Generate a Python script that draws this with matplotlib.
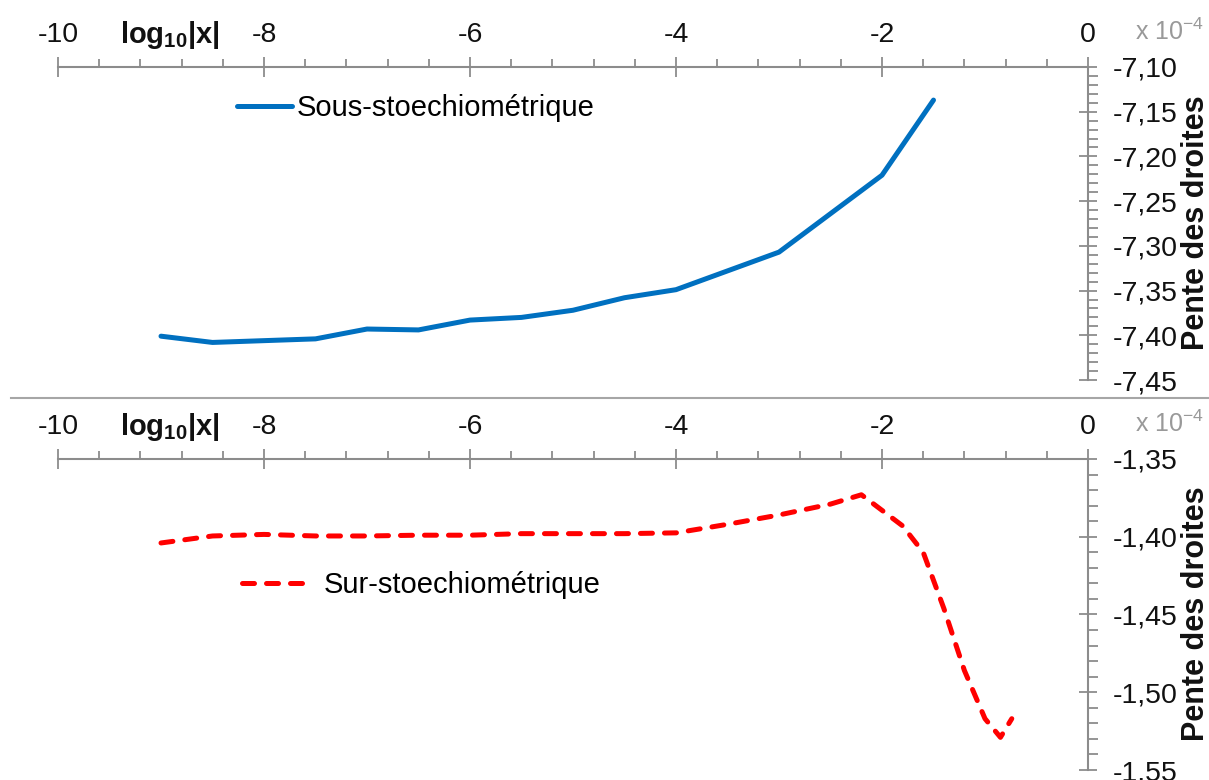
#!/usr/bin/env python
# -*- coding: utf-8 -*-

import matplotlib
matplotlib.use('Agg')
import matplotlib.pyplot as plt
from matplotlib.lines import Line2D
import matplotlib.ticker as ticker

matplotlib.rcParams.update({
	'font.family': 'Liberation Sans',
	'mathtext.fontset': 'custom',
	'mathtext.rm': 'Liberation Sans',
	'mathtext.bf': 'Liberation Sans:bold',
	'figure.dpi': 100})

# pente des droites (x 10^-4) en fonction de log10|x|
log_x_sous = [-9.0, -8.5, -8.0, -7.5, -7.0, -6.5, -6.0, -5.5, -5.0, -4.5, -4.0, -3.0, -2.0, -1.5]
pente_sous = [-7.401, -7.408, -7.406, -7.404, -7.393, -7.394, -7.383, -7.380, -7.372, -7.358, -7.349, -7.307, -7.221, -7.137]

log_x_sur = [-9.0, -8.5, -8.0, -7.5, -7.0, -6.5, -6.0, -5.5, -5.0, -4.5, -4.0, -3.5, -3.0, -2.5,
             -2.2, -1.8, -1.6, -1.4, -1.2, -1.0, -0.85, -0.74]
pente_sur = [-1.404, -1.3995, -1.3985, -1.3995, -1.3995, -1.399, -1.399, -1.398, -1.398, -1.398, -1.3975, -1.392, -1.386, -1.379,
             -1.373, -1.393, -1.410, -1.446, -1.486, -1.517, -1.529, -1.517]

x_ticks = [-10, -8, -6, -4, -2, 0]
x_tick_labels = ['-10', '-8', '-6', '-4', '-2', '0']

y_ticks_sous = [-7.45, -7.40, -7.35, -7.30, -7.25, -7.20, -7.15, -7.10]
y_ticks_sur = [-1.55, -1.50, -1.45, -1.40, -1.35]

GRIS = '#8c8c8c'
W, H = 1209, 780


def fx(px):
	return px / W


def fy(py):
	return 1 - py / H


def setup_panel(ax, y_ticks):
	ax.set_xlim(-10, 0)
	ax.set_ylim(y_ticks[0], y_ticks[-1])

	ax.xaxis.tick_top()
	ax.yaxis.tick_right()
	ax.set_xticks(x_ticks, x_tick_labels)
	ax.set_yticks(y_ticks, ["{:.2f}".format(v).replace('.', ',') for v in y_ticks])
	ax.xaxis.set_minor_locator(ticker.MultipleLocator(0.4))
	ax.yaxis.set_minor_locator(ticker.MultipleLocator(0.01))

	ax.tick_params(axis='x', which='major', direction='inout', length=14, width=1.3,
	               color=GRIS, labelsize=20.5, pad=7, labelcolor='#111111')
	ax.tick_params(axis='x', which='minor', direction='out', length=6, width=1.3, color=GRIS)
	ax.tick_params(axis='y', which='major', direction='inout', length=13, width=1.3,
	               color=GRIS, labelsize=20.5, pad=11, labelcolor='#111111')
	ax.tick_params(axis='y', which='minor', direction='out', length=7, width=1.3, color=GRIS)

	for s in ['left', 'bottom']:
		ax.spines[s].set_visible(False)
	for s in ['top', 'right']:
		ax.spines[s].set_color(GRIS)
		ax.spines[s].set_linewidth(1.5)
	ax.patch.set_visible(False)


def main():
	fig = plt.figure(figsize=(W / 100, H / 100), dpi=100)

	ax1 = fig.add_axes([fx(58), fy(380), fx(1088) - fx(58), fy(67) - fy(380)])
	ax2 = fig.add_axes([fx(58), fy(770), fx(1088) - fx(58), fy(459) - fy(770)])

	setup_panel(ax1, y_ticks_sous)
	setup_panel(ax2, y_ticks_sur)

	##Plotting##
	ax1.plot(log_x_sous, pente_sous, color='#0070C0', linewidth=3.6,
	         solid_capstyle='round', solid_joinstyle='round', label=u"Sous-stoechiométrique")
	l2, = ax2.plot(log_x_sur, pente_sur, color='#FF0000', linewidth=3.6,
	               dash_capstyle='round', dash_joinstyle='round', label=u"Sur-stoechiométrique")
	l2.set_dashes((2.4, 2.4))

	ax1.legend(loc='center left', bbox_to_anchor=(fx(237), fy(108)), bbox_transform=fig.transFigure,
	           frameon=False, fontsize=21, handlelength=1.9, handletextpad=0.15,
	           borderpad=0, borderaxespad=0)
	ax2.legend(loc='center left', bbox_to_anchor=(fx(242), fy(585)), bbox_transform=fig.transFigure,
	           frameon=False, fontsize=21, handlelength=2.2, handletextpad=0.6,
	           borderpad=0, borderaxespad=0)

	# titres des axes
	for y_base, y_mid in [(43, 223), (435, 614)]:
		fig.text(fx(120), fy(y_base), r'$\mathbf{log_{10}|x|}$', fontsize=21,
		         ha='left', va='baseline', color='#111111')
		fig.text(fx(1135), fy(y_base - 3), r'x 10$^{-4}$', fontsize=18,
		         ha='left', va='baseline', color='#999999')
		fig.text(fx(1196), fy(y_mid), "Pente des droites", fontsize=22, fontweight='bold',
		         rotation=90, ha='center', va='center', color='#111111')

	# separation entre les deux graphes
	fig.add_artist(Line2D([fx(11), 1], [fy(398), fy(398)], transform=fig.transFigure,
	                      color='#a6a6a6', linewidth=1.5))

	fig.savefig('out.png', dpi=100)


if __name__ == '__main__':
	main()
